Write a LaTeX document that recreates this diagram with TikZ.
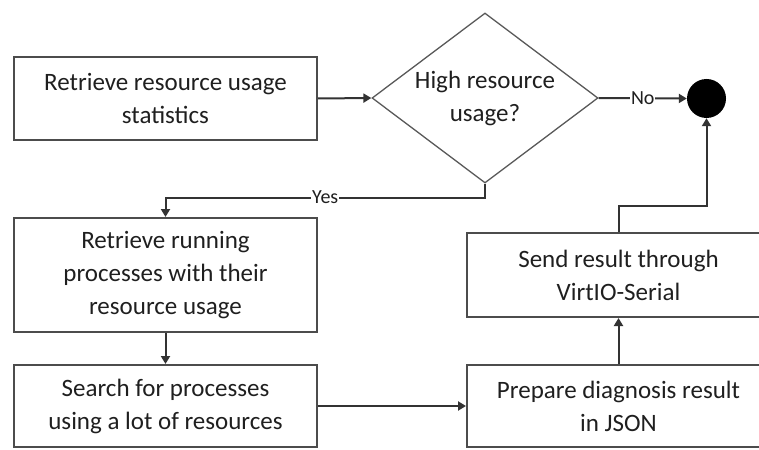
\documentclass[tikz,border=0pt]{standalone}
\usepackage{fontspec}
\setmainfont{Carlito}
\usetikzlibrary{shapes.geometric,arrows.meta}
\begin{document}
\begin{tikzpicture}[x=1pt,y=-1pt,
  every node/.style={font=\fontsize{25}{33}\selectfont, text=black!88},
  stepbox/.style={draw=black!70, line width=2pt, rectangle, minimum width=303pt, inner sep=0pt, align=center},
  decision/.style={draw=black!65, line width=1.3pt, diamond, minimum width=226pt, minimum height=170pt, inner sep=0pt},
  endpoint/.style={circle, fill=black, minimum size=39pt, inner sep=0pt},
  flow/.style={draw=black!80, line width=2pt, -{Triangle[length=8pt,width=9pt]}},
  lbl/.style={fill=white, inner sep=1pt, font=\fontsize{20}{24}\selectfont}
]
\useasboundingbox (0,0) rectangle (759,449);

% process steps
\node[stepbox, minimum height=83pt] (b1) at (165.5,98.5) {Retrieve resource usage\\statistics};
\node[stepbox, minimum height=114pt] (b2) at (165.5,275) {Retrieve running\\processes with their\\resource usage};
\node[stepbox, minimum height=82pt] (b3) at (165.5,406) {Search for processes\\using a lot of resources};
\node[stepbox, minimum height=82pt] (b4) at (618.5,406) {Prepare diagnosis result\\in JSON};
\node[stepbox, minimum height=84pt] (b5) at (618.5,275) {Send result through\\VirtIO-Serial};

% decision and end point
\node[decision] (d) at (485,98) {};
\node[align=center] (dt) at (d.center) {High resource\\usage?};
\node[endpoint] (e) at (706.5,98.5) {};

% connectors
\draw[flow] (b1.east) -- (d.west);
\draw[flow] (d.east) -- node[lbl] {No} (e.west);
\draw[flow] (d.south) -- ++(0,14) -| node[lbl, pos=0.25] {Yes} (b2.north);
\draw[flow] (b2.south) -- (b3.north);
\draw[flow] (b3.east) -- (b3.east -| b4.west);
\draw[flow] (b4.north) -- (b5.south);
\draw[flow] (b5.north) -- ++(0,-26) -| (e.south);
\end{tikzpicture}
\end{document}
